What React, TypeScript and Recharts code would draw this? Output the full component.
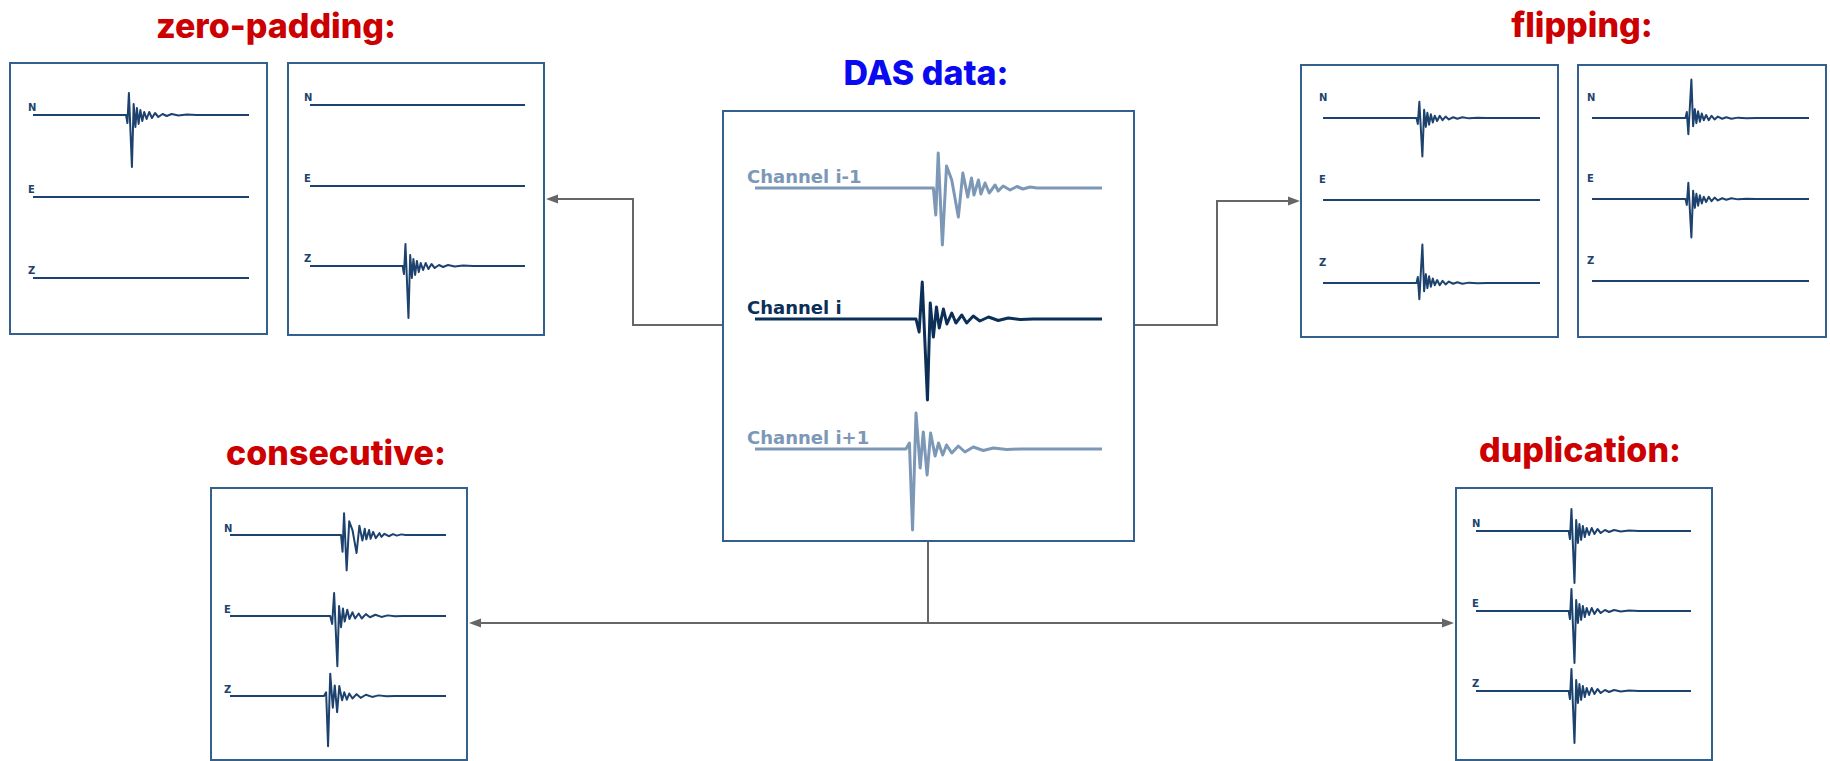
import { LineChart, Line, XAxis, YAxis } from 'recharts'

// Time runs 0..100 across each trace; amplitudes are in px at the reference scale.
const T_SPAN: [number, number] = [0, 100]

// three-component event as drawn in the small station panels
const SMALL_T = [0, 43.1, 43.7, 44.4, 45.8, 46.6, 47.4, 48.1, 48.9, 49.7, 50.6, 51.5, 52.6, 53.8, 55.1, 56.5, 58.0, 60.0, 61.9, 64.2, 67.3, 71.2, 75.8, 100]
const SMALL_V = [0, 0, -8, 22, -52, 11, -12, 7, -9, 5, -6, 3, -4, 3, -3, 2, -2, 1, -1, 1, -0.5, 0.5, 0, 0]

// DAS channels i-1, i, i+1
const PREV_T = [0, 51.4, 52.1, 52.8, 54.0, 55.2, 56.7, 58.6, 59.9, 61.3, 62.4, 63.1, 64.4, 65.1, 66.3, 67.5, 69.2, 70.1, 71.5, 73.5, 75.5, 77.2, 79.3, 81.3, 100]
const PREV_V = [0, 0, -27, 35, -57, 22, 8, -29, 15, -9, 10, -7, 8, -6, 5, -5, 3, -3, 2, -2, 1.5, -1, 1, 0, 0]
const CUR_T = [0, 46.4, 47.3, 48.2, 49.7, 50.5, 51.4, 52.3, 53.1, 54.3, 55.3, 56.7, 57.9, 59.6, 61.0, 62.9, 64.8, 67.3, 70.1, 73.0, 76.4, 80.2, 100]
const CUR_V = [0, 0, -13, 37, -81, 16, -18, 12, -9, 10, -5, 6, -4, 4, -4, 3, -2, 2, -1.5, 1, -0.5, 0, 0]
const NEXT_T = [0, 43.5, 44.5, 45.4, 46.4, 47.6, 48.5, 49.6, 50.6, 51.9, 52.9, 54.1, 55.2, 56.7, 58.6, 60.5, 62.9, 65.8, 68.7, 72.5, 76.4, 100]
const NEXT_V = [0, 0, 6, -81, 36, -19, 17, -26, 16, -7, 6, -6, 4, -4, 3, -3, 2, -1.5, 1, -0.5, 0, 0]

// silent component (zero-padded)
const FLAT_T = [0, 100]
const FLAT_V = [0, 0]

const COMPONENTS = ['N', 'E', 'Z']
const CHANNELS = ['Channel i-1', 'Channel i', 'Channel i+1']

type Pt = { t: number; v: number }
const pts = (t: number[], v: number[]): Pt[] => t.map((x, i) => ({ t: x, v: v[i] }))
const SMALL = pts(SMALL_T, SMALL_V)
const PREV = pts(PREV_T, PREV_V)
const CUR = pts(CUR_T, CUR_V)
const NEXT = pts(NEXT_T, NEXT_V)
const FLAT = pts(FLAT_T, FLAT_V)

const BOX = '#34608d'
const TRACE = '#1c426d'
const CH_MAIN = '#0b2f57'
const CH_SIDE = '#7c98b6'
const ARROW = '#666666'
const RED = '#cc0000'
const BLUE = '#0a0af0'

interface PanelSpec {
  id: string
  x: number; y: number; w: number; h: number
  x0: number; x1: number
  rows: number[]
  waves: Pt[][]
  flip: boolean[]
  k: number
  labels: string[]
  labelX: number; labelUp: number; labelSize: number
  colors: string[]
  width: number
}

const small = (p: Omit<PanelSpec, 'labels' | 'labelSize' | 'colors' | 'width'>): PanelSpec => ({
  ...p, labels: COMPONENTS, labelSize: 10, colors: [TRACE, TRACE, TRACE], width: 2,
})

const PANELS: PanelSpec[] = [
  small({ id: 'zp1', x: 9, y: 62, w: 259, h: 273, x0: 24, x1: 240, rows: [53, 135, 216], waves: [SMALL, FLAT, FLAT], flip: [false, false, false], k: 1, labelX: 19, labelUp: 4 }),
  small({ id: 'zp2', x: 287, y: 62, w: 258, h: 274, x0: 23, x1: 238, rows: [43, 124, 204], waves: [FLAT, FLAT, SMALL], flip: [false, false, false], k: 1, labelX: 17, labelUp: 4 }),
  small({ id: 'fl1', x: 1300, y: 64, w: 259, h: 274, x0: 23, x1: 240, rows: [54, 136, 219], waves: [SMALL, FLAT, SMALL], flip: [false, false, true], k: 0.74, labelX: 19, labelUp: 17 }),
  small({ id: 'fl2', x: 1577, y: 64, w: 250, h: 274, x0: 15, x1: 232, rows: [54, 135, 217], waves: [SMALL, SMALL, FLAT], flip: [true, false, false], k: 0.74, labelX: 10, labelUp: 17 }),
  small({ id: 'con', x: 210, y: 487, w: 258, h: 274, x0: 20, x1: 236, rows: [48, 129, 209], waves: [PREV, CUR, NEXT], flip: [false, false, false], k: 0.62, labelX: 14, labelUp: 3 }),
  small({ id: 'dup', x: 1455, y: 487, w: 258, h: 274, x0: 21, x1: 236, rows: [44, 124, 204], waves: [SMALL, SMALL, SMALL], flip: [false, false, false], k: 1, labelX: 17, labelUp: 4 }),
  {
    id: 'das', x: 722, y: 110, w: 413, h: 432, x0: 33, x1: 380, rows: [78, 209, 339],
    waves: [PREV, CUR, NEXT], flip: [false, false, false], k: 1,
    labels: CHANNELS, labelX: 25, labelUp: 5, labelSize: 18,
    colors: [CH_SIDE, CH_MAIN, CH_SIDE], width: 3,
  },
]

const TITLES = [
  { text: 'zero-padding:', x: 276, y: 38, color: RED },
  { text: 'DAS data:', x: 926, y: 85, color: BLUE },
  { text: 'flipping:', x: 1582, y: 37, color: RED },
  { text: 'consecutive:', x: 336, y: 465, color: RED },
  { text: 'duplication:', x: 1580, y: 462, color: RED },
]

function Panel({ p }: { p: PanelSpec }) {
  return (
    <>
      <div style={{
        position: 'absolute', left: p.x, top: p.y, width: p.w, height: p.h,
        boxSizing: 'border-box', border: `2px solid ${BOX}`, background: '#fff',
      }} />
      <div style={{ position: 'absolute', left: p.x, top: p.y }}>
        <LineChart width={p.w} height={p.h} margin={{ top: 0, bottom: 0, left: p.x0, right: p.w - p.x1 }}>
          <XAxis type="number" dataKey="t" domain={T_SPAN} hide allowDataOverflow />
          {p.rows.map((yb, i) => {
            // put the zero line of each trace at its own row; a flipped trace gets a reversed axis
            const dom: [number, number] = p.flip[i]
              ? [-yb / p.k, (p.h - yb) / p.k]
              : [-(p.h - yb) / p.k, yb / p.k]
            return (
              <YAxis key={i} yAxisId={`r${i}`} type="number" domain={dom}
                reversed={p.flip[i]} hide allowDataOverflow />
            )
          })}
          {p.waves.map((w, i) => (
            <Line key={i} yAxisId={`r${i}`} data={w} dataKey="v" type="linear"
              stroke={p.colors[i]} strokeWidth={p.width} strokeLinejoin="round"
              dot={false} activeDot={false} isAnimationActive={false} />
          ))}
        </LineChart>
      </div>
      <svg width={p.w} height={p.h} style={{ position: 'absolute', left: p.x, top: p.y, pointerEvents: 'none' }}>
        {p.labels.map((l, i) => (
          <text key={l} x={p.labelX} y={p.rows[i] - p.labelUp} fill={p.colors[i]}
            fontFamily="DejaVu Sans" fontWeight="bold" fontSize={p.labelSize}>{l}</text>
        ))}
      </svg>
    </>
  )
}

function Arrow({ x, y, dir }: { x: number; y: number; dir: 1 | -1 }) {
  // tip at (x, y), pointing right when dir = 1
  return <polygon points={`${x},${y} ${x - dir * 12},${y - 4.5} ${x - dir * 12},${y + 4.5}`} fill={ARROW} />
}

export default function App() {
  return (
    <div style={{ position: 'absolute', left: 0, top: 0, width: 1830, height: 761, overflow: 'hidden', background: '#fff' }}>
      <svg width={1830} height={761} style={{ position: 'absolute', left: 0, top: 0 }}>
        <g fill="none" stroke={ARROW} strokeWidth={2}>
          <polyline points="722,325 633,325 633,199 556,199" />
          <polyline points="1135,325 1217,325 1217,201 1290,201" />
          <polyline points="928,542 928,623" />
          <polyline points="478,623 1445,623" />
        </g>
        <Arrow x={546} y={199} dir={-1} />
        <Arrow x={1300} y={201} dir={1} />
        <Arrow x={469} y={623} dir={-1} />
        <Arrow x={1454} y={623} dir={1} />
        {TITLES.map((t) => (
          <text key={t.text} x={t.x} y={t.y} textAnchor="middle" fill={t.color}
            fontFamily="Inter" fontWeight={800} fontSize={34}>{t.text}</text>
        ))}
      </svg>
      {PANELS.map((p) => <Panel key={p.id} p={p} />)}
    </div>
  )
}
